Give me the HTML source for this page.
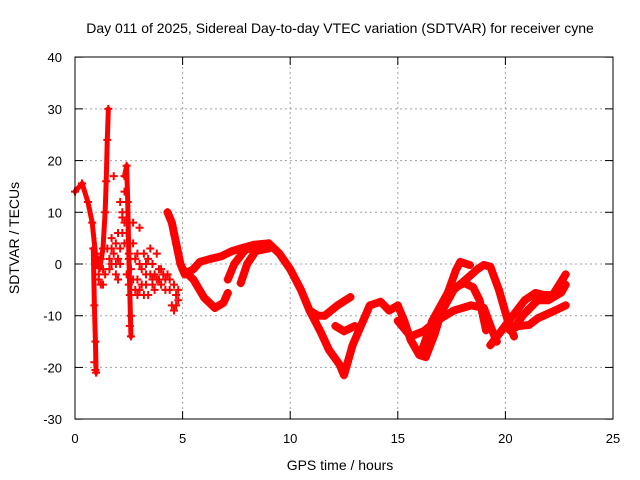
<!DOCTYPE html>
<html><head><meta charset="utf-8">
<style>
body{margin:0;background:#fff;}
svg{display:block;font-family:"Liberation Sans",sans-serif;}
</style></head>
<body>
<svg id="chart" width="640" height="480" viewBox="0 0 640 480" xmlns="http://www.w3.org/2000/svg">
<rect width="640" height="480" fill="#fff"/>
<text x="340" y="33" font-size="14" text-anchor="middle">Day 011 of 2025, Sidereal Day-to-day VTEC variation (SDTVAR) for receiver cyne</text>
<text x="340" y="470" font-size="14" text-anchor="middle">GPS time / hours</text>
<text transform="translate(19,238) rotate(-90)" font-size="14" text-anchor="middle">SDTVAR / TECUs</text>
<g id="grid"></g>
<g id="ticks"></g>
<g id="marks"></g>
<rect x="75" y="57" width="538" height="362" fill="none" stroke="#000" stroke-width="1"/>
</svg>
<script>
const xTicks=[0,5,10,15,20,25];
const yTicks=[-30,-20,-10,0,10,20,30,40];
// tracks: [hour, TECU] pairs
const track1=[[0,14],[0.33,15.6],[0.6,12],[0.8,8],[0.95,2],[1.15,-0.8],[1.3,3],[1.4,10],[1.45,16],[1.5,24],[1.55,30]];
const track2=[[0.85,3],[0.9,-8],[0.95,-15],[0.98,-21]];
const track3=[[2.3,17],[2.4,19],[2.45,12],[2.5,2],[2.55,-6],[2.6,-14]];
const track4=[[4.3,10],[4.5,8],[4.7,4],[4.9,0],[5.1,-2],[5.5,-1],[5.8,0.4],[6.3,1],[6.8,1.5],[7.3,2.5],[7.7,3],[8.3,3.7],[9,4],[9.5,2],[10,-1],[10.5,-5],[10.9,-9],[11.3,-10],[11.6,-10],[12.2,-8],[12.8,-6.4]];
const track5=[[5,-1],[5.5,-3],[6,-6.5],[6.5,-8.5],[6.9,-7.5],[7.1,-5.6]];
const track6=[[7.1,-3],[7.4,0],[7.9,2.7],[8.5,3.5]];
const track7=[[7.7,-3.7],[8.0,0],[8.4,2.5],[9,3]];
const track8=[[10.9,-9],[11.4,-13],[11.8,-16.6],[12.3,-19.5],[12.5,-21.5],[12.9,-15.7],[13.2,-12.8],[13.7,-8],[14.2,-7.3],[14.6,-9],[15,-8],[15.3,-11],[15.6,-14.7],[16,-17.6],[16.3,-18],[16.7,-13.7],[17.2,-7],[17.7,-1.2],[17.9,0.4],[18.35,-0.2]];
const track9=[[12.1,-12],[12.5,-13],[13,-12]];
const track10=[[16.1,-17],[16.6,-11],[17.4,-5],[18.1,-3.7],[18.5,-4.5],[18.8,-7],[19.1,-12.8]];
const track11=[[16.2,-16],[16.8,-11],[17.6,-5],[18.3,-2.5],[18.7,-1],[19,-0.2],[19.3,-0.5],[19.7,-5],[20.1,-10.8],[20.4,-14]];
const track12=[[15,-11],[15.6,-14],[16.2,-13],[16.8,-11],[17.6,-9],[18.4,-8],[19,-8.5],[19.4,-13],[19.6,-15]];
const track13=[[19.3,-15.7],[19.8,-13],[20.2,-10.8],[20.9,-7],[21.4,-5.6],[21.8,-6],[22.2,-6],[22.5,-4],[22.8,-2]];
const track14=[[20.2,-12.8],[20.6,-12],[21.1,-11.8],[21.5,-10.5],[22.3,-9],[22.8,-8]];
const track15=[[20.3,-13],[20.8,-10],[21.5,-7],[22,-7],[22.6,-5.5],[22.8,-4]];
const tracks=[track1,track2,track3,track4,track5,track6,track7,track8,track9,track10,track11,track12,track13,track14,track15];
const noise=[[1.0,0],[1.1,-2],[1.2,1],[1.3,-1],[1.5,3],[1.6,1],[1.7,5],[1.8,2],[1.9,0],[2.0,-3],[2.1,3],[2.0,6],[2.2,9],[2.3,4],[2.4,-2],[2.5,-4],[2.6,-1],[2.7,4],[2.8,1],[2.9,-3],[3.0,-5],[3.1,-1],[3.2,2],[3.3,-4],[3.4,-6],[3.5,-2],[3.6,0],[3.7,-5],[3.8,-3],[3.9,-1],[4.0,-4],[4.1,-2],[4.2,-5],[3.2,-6],[2.9,-6],[3.5,3],[3.8,2],[4.5,-8],[4.6,-9],[4.7,-6],[1.8,17],[2.6,-10],[2.55,-12],[0.9,-19],[0.95,-20.5],[1.3,-4],[3.0,7],[2.7,8],[4.4,-3],[4.8,-7],
[1.1,-3],[1.2,-4],[1.4,-2],[1.6,-1],[1.7,3],[1.9,4],[2.0,1],[2.1,0],[2.2,6],[2.3,8],[2.4,6],[2.5,1],[2.7,-3],[2.8,-5],[2.9,2],[3.0,0],[3.1,-4],[3.3,-2],[3.4,1],[3.6,-4],[3.7,-2],[3.9,-3],[4.0,-1],[4.2,-3],[4.3,-2],[4.4,-5],[4.6,-4],[4.7,-8],[4.8,-5],[2.2,10],[2.1,12],[2.3,14],[1.7,0],[1.9,-2],[3.3,0],[3.6,-3]];
const sx=h=>75+h*538/25;
const sy=v=>264-v*362/70;
const NS="http://www.w3.org/2000/svg";
const grid=document.getElementById('grid'),ticks=document.getElementById('ticks'),marks=document.getElementById('marks');
function mk(tag,attrs,parent){const e=document.createElementNS(NS,tag);for(const k in attrs)e.setAttribute(k,attrs[k]);parent.appendChild(e);return e;}
xTicks.forEach(t=>{
  const x=sx(t);
  if(t>0&&t<25){const g=mk('line',{x1:x,y1:57,x2:x,y2:419,stroke:'#a0a0a0','stroke-dasharray':'2,3'},grid);
  
  }
  mk('line',{x1:x,y1:419,x2:x,y2:411,stroke:'#000'},ticks);
  mk('line',{x1:x,y1:57,x2:x,y2:65,stroke:'#000'},ticks);
  const l=mk('text',{x:x,y:443,'font-size':13,'text-anchor':'middle'},ticks);
  l.textContent=t;
  
  
});
yTicks.forEach(t=>{
  const y=sy(t);
  if(t>-30&&t<40){const g=mk('line',{x1:75,y1:y,x2:613,y2:y,stroke:'#a0a0a0','stroke-dasharray':'2,3'},grid);
  
  }
  mk('line',{x1:75,y1:y,x2:83,y2:y,stroke:'#000'},ticks);
  mk('line',{x1:613,y1:y,x2:605,y2:y,stroke:'#000'},ticks);
  const l=mk('text',{x:62,y:y+5,'font-size':13,'text-anchor':'end'},ticks);
  l.textContent=t;
  
  
});
function plus(h,v){
  const x=sx(h),y=sy(v);
  const p=mk('path',{d:`M${x-4},${y}H${x+4}M${x},${y-4}V${y+4}`,stroke:'#f00','stroke-width':2,fill:'none'},marks);
  
  
}
tracks.forEach((tr,i)=>{
  const w=(i<3)?5:8;
  const pl=mk('polyline',{points:tr.map(p=>sx(p[0])+','+sy(p[1])).join(' '),fill:'none',stroke:'#f00','stroke-width':w,'stroke-linejoin':'round','stroke-linecap':'round'},marks);
  
  
  tr.forEach(p=>plus(p[0],p[1]));
});
noise.forEach(p=>plus(p[0],p[1]));
</script>
</body></html>
